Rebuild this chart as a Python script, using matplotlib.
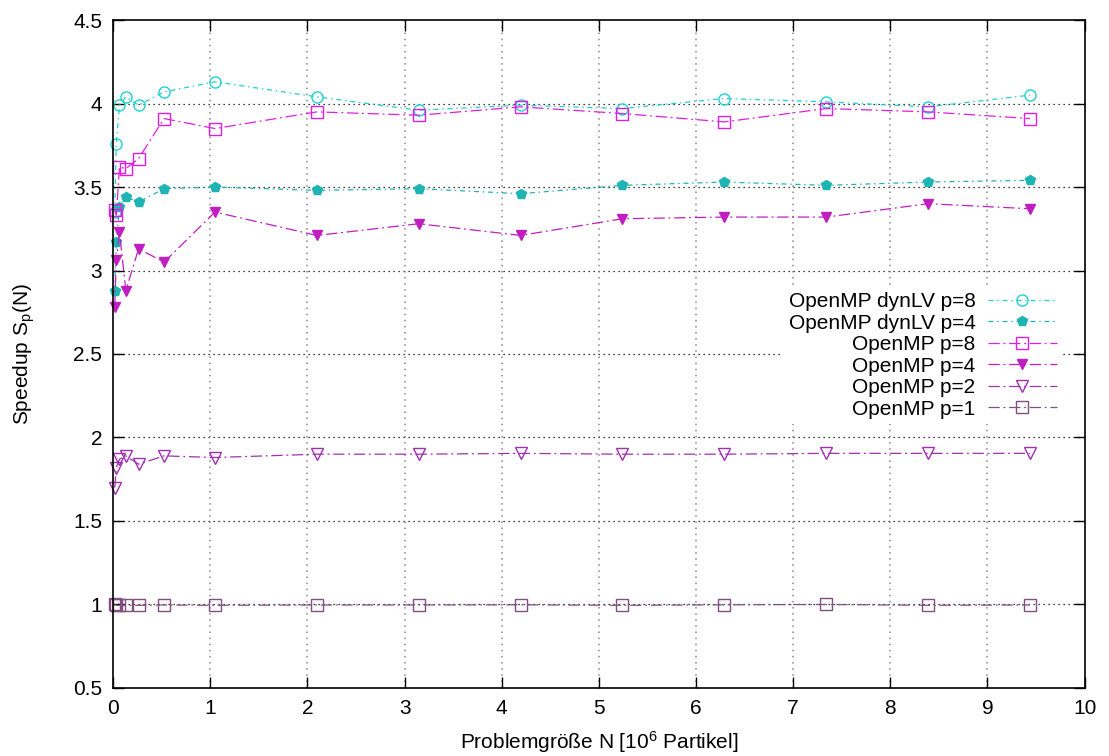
import matplotlib
matplotlib.use("Agg")
import matplotlib.pyplot as plt
import numpy as np

plt.rcParams['font.family'] = ['Liberation Sans', 'DejaVu Sans']
plt.rcParams['mathtext.fontset'] = 'custom'
plt.rcParams['mathtext.rm'] = 'Liberation Sans'
plt.rcParams['mathtext.it'] = 'Liberation Sans'

# Problem size N in 10^6 particles
N = [0.016384, 0.032768, 0.065536, 0.131072, 0.262144, 0.524288,
     1.048576, 2.097152, 3.145728, 4.194304, 5.242880, 6.291456,
     7.340032, 8.388608, 9.437184]

dynlv_p8 = [3.35, 3.76, 3.99, 4.04, 3.99, 4.07, 4.13, 4.04, 3.96, 3.99,
            3.97, 4.03, 4.01, 3.98, 4.05]
dynlv_p4 = [2.88, 3.17, 3.38, 3.44, 3.41, 3.49, 3.50, 3.48, 3.49, 3.46,
            3.51, 3.53, 3.51, 3.53, 3.54]
omp_p8 = [3.36, 3.33, 3.62, 3.61, 3.67, 3.91, 3.85, 3.95, 3.93, 3.98,
          3.94, 3.89, 3.97, 3.95, 3.91]
omp_p4 = [2.78, 3.06, 3.23, 2.88, 3.13, 3.05, 3.35, 3.21, 3.28, 3.21,
          3.31, 3.32, 3.32, 3.40, 3.37]
omp_p2 = [1.70, 1.82, 1.87, 1.89, 1.84, 1.89, 1.88, 1.90, 1.90, 1.905,
          1.90, 1.90, 1.905, 1.905, 1.905]
omp_p1 = [1.0, 0.995, 0.995, 0.995, 0.995, 0.997, 0.995, 0.997, 0.997,
          0.998, 0.995, 0.998, 1.0, 0.995, 0.997]

labels = ['OpenMP dynLV p=8', 'OpenMP dynLV p=4', 'OpenMP p=8',
          'OpenMP p=4', 'OpenMP p=2', 'OpenMP p=1']
x_ticks = [0, 1, 2, 3, 4, 5, 6, 7, 8, 9, 10]
y_ticks = [0.5, 1, 1.5, 2, 2.5, 3, 3.5, 4, 4.5]

FS = 15

fig = plt.figure(figsize=(11.09, 7.56), dpi=100)
ax = fig.add_axes([0.102, 0.090, 0.876, 0.8835])

short_dd = (0, (4, 3, 1.2, 3))
long_dd = (0, (9, 3, 1.5, 3))
lw = 0.9

series = [
    (dynlv_p8, '#1ed2d2', 'o', 'none', short_dd, 8),
    (dynlv_p4, '#1fb4b4', 'p', '#1fb4b4', short_dd, 7),
    (omp_p8, '#e01ee0', 's', 'none', long_dd, 8),
    (omp_p4, '#c01ec0', 'v', '#c01ec0', long_dd, 7),
    (omp_p2, '#a030b0', 'v', 'none', long_dd, 8),
    (omp_p1, '#805080', 's', 'none', long_dd, 8),
]

for (vals, col, mk, mfc, ls, ms), lab in zip(series, labels):
    ax.plot(N, vals, color=col, linestyle=ls, linewidth=lw, marker=mk,
            markersize=ms, markerfacecolor=mfc, markeredgecolor=col,
            markeredgewidth=1.0, label=lab, clip_on=False)

ax.set_xlim(0, 10)
ax.set_ylim(0.5, 4.5)
ax.set_xticks(x_ticks)
ax.set_yticks(y_ticks)
ax.set_xticklabels([str(t) for t in x_ticks])
ax.set_yticklabels(['0.5', '1', '1.5', '2', '2.5', '3', '3.5', '4', '4.5'])

ax.grid(False)
for yv in y_ticks[1:-1]:
    ax.axhline(yv, color='black', linestyle=(0, (1, 3)), linewidth=0.9, zorder=0)
for xv in x_ticks[1:-1]:
    ax.axvline(xv, color='#888888', linestyle=(0, (1, 3)), linewidth=1.1, zorder=0)

ax.tick_params(direction='in', length=8, width=1, top=True, right=True,
               labelsize=FS, pad=8)
for sp in ax.spines.values():
    sp.set_linewidth(1.2)

ax.set_xlabel('Problemgröße N [10$^{6}$ Partikel]', fontsize=FS, labelpad=8)
ax.set_ylabel('Speedup S$_{\\mathrm{p}}$(N)', fontsize=FS, labelpad=26)

leg = ax.legend(loc='upper right', bbox_to_anchor=(1062 / 1109, 1 - 287 / 756),
                bbox_transform=fig.transFigure, markerfirst=False,
                frameon=True, framealpha=1.0, fancybox=False,
                fontsize=FS, handlelength=3.3, labelspacing=0.12,
                handletextpad=0.6, borderpad=0.25, borderaxespad=0)
leg.get_frame().set_edgecolor('none')
leg.get_frame().set_facecolor('white')
leg.set_zorder(5)

fig.savefig('out.png', dpi=100)
